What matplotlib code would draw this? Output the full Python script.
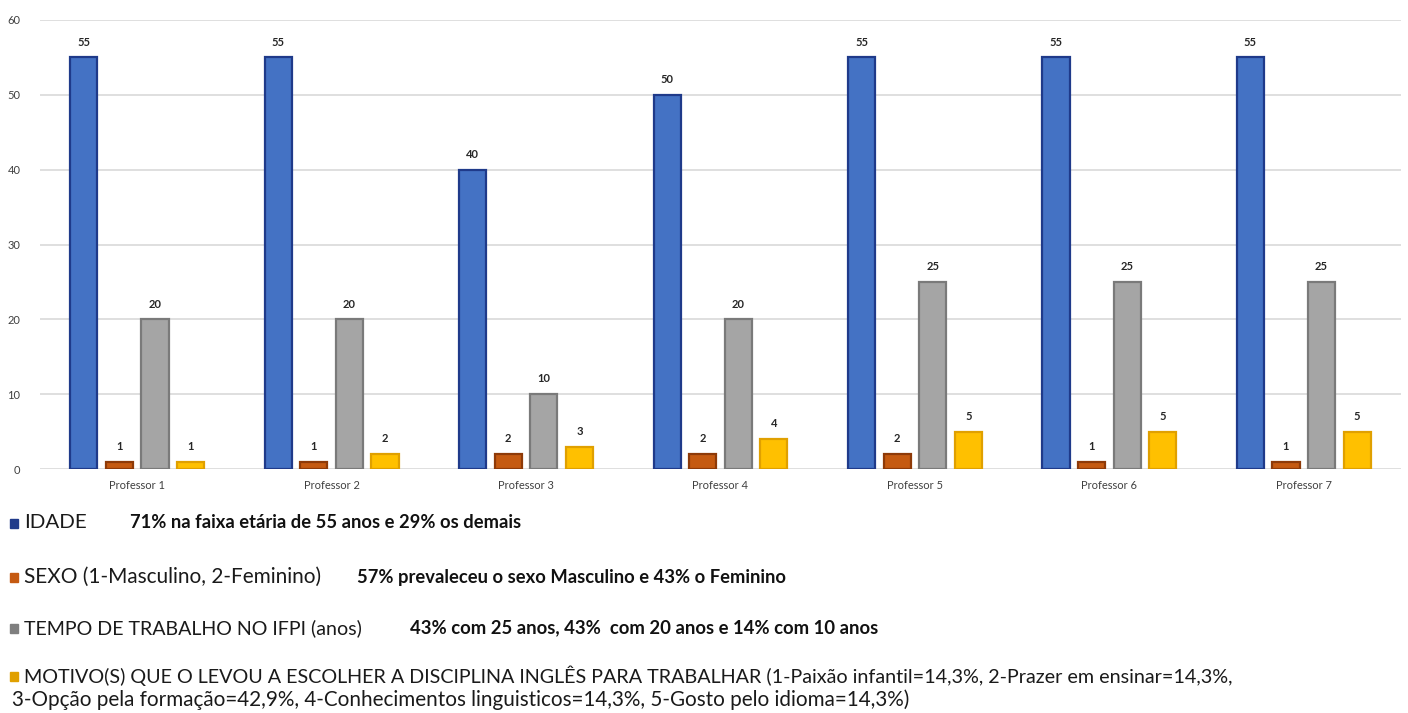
import matplotlib
matplotlib.use("Agg")
import matplotlib.pyplot as plt
import numpy as np
from matplotlib.patches import Rectangle

categories = ["Professor 1", "Professor 2", "Professor 3", "Professor 4",
              "Professor 5", "Professor 6", "Professor 7"]
idade = [55, 55, 40, 50, 55, 55, 55]
sexo = [1, 1, 2, 2, 2, 1, 1]
tempo = [20, 20, 10, 20, 25, 25, 25]
motivo = [1, 2, 3, 4, 5, 5, 5]

series_names = ["IDADE", "SEXO (1-Masculino, 2-Feminino)",
                "TEMPO DE TRABALHO NO IFPI (anos)",
                "MOTIVO(S) QUE O LEVOU A ESCOLHER A DISCIPLINA INGLÊS PARA TRABALHAR "
                "(1-Paixão infantil=14,3%, 2-Prazer em ensinar=14,3%,"]
motivo_line2 = ("3-Opção pela formação=42,9%, 4-Conhecimentos linguisticos=14,3%, "
                "5-Gosto pelo idioma=14,3%)")
notes = ["71% na faixa etária de 55 anos e 29% os demais",
         "57% prevaleceu o sexo Masculino e 43% o Feminino",
         "43% com 25 anos, 43%  com 20 anos e 14% com 10 anos",
         None]

fills = ["#4472C4", "#C55A11", "#A5A5A5", "#FFC000"]
edges = ["#1F3A8A", "#8E3A08", "#7A7A7A", "#E0A000"]
legend_sq = ["#1F3A8A", "#C55A11", "#7F7F7F", "#E0A000"]

plt.rcParams["font.family"] = ["Lato", "DejaVu Sans"]

W, H = 1408, 713
fig = plt.figure(figsize=(W / 100, H / 100), dpi=100)
ax = fig.add_axes([40 / W, 1 - 469 / H, 1361 / W, 449 / H])

x = np.arange(len(categories))
step = 0.183
width = 0.14
all_series = [idade, sexo, tempo, motivo]
for i, vals in enumerate(all_series):
    off = (i - 1.5) * step
    bars = ax.bar(x + off, vals, width, color=fills[i], edgecolor=edges[i],
                  linewidth=1.6, zorder=3)
    for b, v in zip(bars, vals):
        ax.text(b.get_x() + b.get_width() / 2, v + 1.3, str(v),
                ha="center", va="bottom", fontsize=8, color="#262626",
                fontweight="bold", zorder=4)

ax.set_xlim(-0.5, len(categories) - 0.5)
ax.set_ylim(0, 60)
ax.set_yticks(range(0, 61, 10))
ax.yaxis.grid(True, color="#D9D9D9", linewidth=1.2, zorder=0)
ax.set_axisbelow(True)
for s in ax.spines.values():
    s.set_visible(False)
ax.tick_params(axis="both", length=0, labelsize=8, labelcolor="#404040")
ax.tick_params(axis="y", pad=14)
ax.tick_params(axis="x", pad=8)
ax.set_xticks(x)
ax.set_xticklabels(categories)

renderer = fig.canvas.get_renderer()


def fitted_text(x0, x1, ypix, s, **kw):
    """Place text starting at pixel x0 and scale its size so it ends at x1."""
    t = fig.text(x0 / W, 1 - ypix / H, s, fontsize=10, va="center", ha="left", **kw)
    w = t.get_window_extent(renderer).width
    t.set_fontsize(10 * (x1 - x0) / w)
    return t


# Legend block beneath the plot with the summary notes
rows_y = [523, 577, 628, 676]
name_end = [86, 321, 362, 1233]
note_span = [(130, 521), (357, 787), (410, 878), None]
for i in range(4):
    yf = 1 - rows_y[i] / H
    fig.patches.append(Rectangle((10 / W, yf - 4.5 / H), 8 / W, 9 / H,
                                 transform=fig.transFigure, color=legend_sq[i]))
    fitted_text(24, name_end[i], rows_y[i], series_names[i], color="#1a1a1a")
    if notes[i]:
        fitted_text(note_span[i][0], note_span[i][1], rows_y[i], notes[i],
                    color="#111111", fontweight="bold")
fitted_text(12, 912, 700, motivo_line2, color="#1a1a1a")

fig.savefig("out.png", dpi=100, facecolor="white")
